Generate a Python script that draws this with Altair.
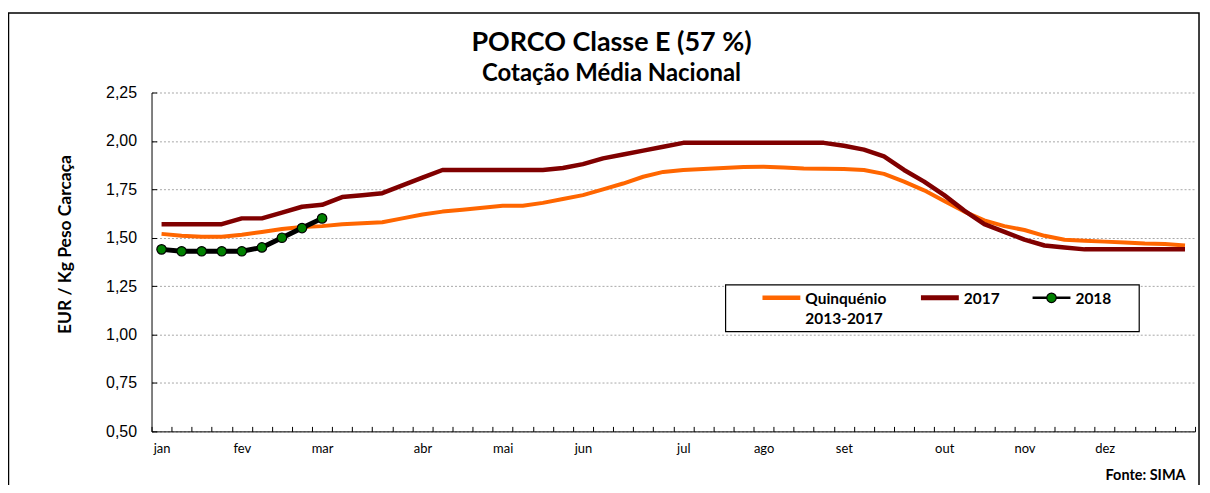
import altair as alt
import pandas as pd

weeks = list(range(1, 53))

quinquenio = [1.52, 1.51, 1.505, 1.505, 1.515, 1.53, 1.545, 1.555, 1.56, 1.57,
              1.575, 1.58, 1.60, 1.62, 1.635, 1.645, 1.655, 1.665, 1.665, 1.68,
              1.70, 1.72, 1.75, 1.78, 1.815, 1.84, 1.85, 1.855, 1.86, 1.865,
              1.867, 1.863, 1.858, 1.856, 1.855, 1.85, 1.83, 1.79, 1.745, 1.69,
              1.635, 1.59, 1.56, 1.54, 1.51, 1.49, 1.485, 1.48, 1.475, 1.47,
              1.468, 1.46]

y2017 = [1.57, 1.57, 1.57, 1.57, 1.60, 1.60, 1.63, 1.66, 1.67, 1.71,
         1.72, 1.73, 1.77, 1.81, 1.85, 1.85, 1.85, 1.85, 1.85, 1.85,
         1.86, 1.88, 1.91, 1.93, 1.95, 1.97, 1.99, 1.99, 1.99, 1.99,
         1.99, 1.99, 1.99, 1.99, 1.975, 1.955, 1.92, 1.85, 1.79, 1.72,
         1.64, 1.57, 1.53, 1.49, 1.46, 1.45, 1.44, 1.44, 1.44, 1.44,
         1.44, 1.44]

y2018 = [1.44, 1.43, 1.43, 1.43, 1.43, 1.45, 1.50, 1.55, 1.60]

series = ["Quinquénio 2013-2017", "2017", "2018"]
legend_labels = ["Quinquénio\n2013-2017", "2017", "2018"]
colors = ["#FF6600", "#800000", "#000000"]
widths = [4, 5, 2.5]

months = ["jan", "fev", "mar", "abr", "mai", "jun", "jul", "ago", "set", "out", "nov", "dez"]
month_weeks = [1, 5, 9, 14, 18, 22, 27, 31, 35, 40, 44, 48]
y_ticks = [0.5, 0.75, 1.0, 1.25, 1.5, 1.75, 2.0, 2.25]

rows = []
for w, v in zip(weeks, quinquenio):
    rows.append({"semana": w, "valor": v, "serie": series[0]})
for w, v in zip(weeks, y2017):
    rows.append({"semana": w, "valor": v, "serie": series[1]})
for w, v in zip(weeks[:len(y2018)], y2018):
    rows.append({"semana": w, "valor": v, "serie": series[2]})
df = pd.DataFrame(rows)
df18 = df[df["serie"] == "2018"]

W, H = 1047, 340
boundaries = [w - 0.5 for w in range(1, 54)]
bnd_js = "[" + ",".join(str(b) for b in [m - 0.5 for m in month_weeks]) + "]"
mon_js = "[" + ",".join("'" + m + "'" for m in months) + "]"
x_label_expr = f"indexof({bnd_js}, datum.value) >= 0 ? {mon_js}[indexof({bnd_js}, datum.value)] : ''"

x_enc = alt.X(
    "semana:Q",
    scale=alt.Scale(domain=[0.5, 52.5], nice=False, zero=False),
    axis=alt.Axis(
        values=boundaries, tickCount=60, labelExpr=x_label_expr, labelOffset=W / 52 / 2,
        tickSize={"expr": "-5"}, tickColor="black", domainColor="black",
        labelFont="Lato", labelFontSize=13, labelColor="black",
        labelPadding=16, labelOverlap=False, labelFlush=False, labelBound=False,
        grid=False,
        title="Fonte: SIMA", titleFont="Lato", titleFontSize=14.5, titleFontWeight="bold",
        titleColor="black", titleAnchor="end", titleAlign="right",
        titleX=1037, titleY=48, titleBaseline="alphabetic",
    ),
)
y_enc = alt.Y(
    "valor:Q",
    scale=alt.Scale(domain=[0.5, 2.25], nice=False, zero=False),
    axis=alt.Axis(
        values=y_ticks, tickCount=20,
        labelExpr="replace(format(datum.value, '.2f'), '.', ',')",
        tickSize={"expr": "-5"}, tickColor="black", domainColor="black",
        labelFont="Liberation Sans", labelFontSize=16, labelColor="black",
        labelPadding=20,
        grid=True, gridColor="#a8a8a8", gridDash=[2, 2], gridWidth=1,
        title="EUR / Kg Peso Carcaça", titleFont="Lato", titleFontSize=17.5,
        titleFontWeight="bold", titleColor="black",
        titleX=-86, titleY=152, titleAngle=270, titleAlign="center",
        titleBaseline="middle",
    ),
)

lines = alt.Chart(df).mark_line(strokeJoin="round", clip=True).encode(
    x=x_enc,
    y=y_enc,
    color=alt.Color("serie:N", scale=alt.Scale(domain=series, range=colors), legend=None),
    strokeWidth=alt.StrokeWidth("serie:N", scale=alt.Scale(domain=series, range=widths), legend=None),
)

points = alt.Chart(df18).mark_circle(
    color="#008000", stroke="black", strokeWidth=1.2, size=90, opacity=1
).encode(x="semana:Q", y="valor:Q")

one = alt.InlineData(values=[{"f": 1}])

frame = alt.Chart(one).mark_rect(
    fill=None, stroke="black", strokeWidth=1.5
).encode(
    x=alt.value(-143.5), x2=alt.value(1051), y=alt.value(-79.7), y2=alt.value(430)
)

# ---- legend (box, swatches, labels) ----
LX, LY, LW, LH = 576, 193, 415, 47
sym_x = [613, 772, 884]
sym_len = 38
sym_y = LY + 13
legend_layers = [
    alt.Chart(one).mark_rect(fill="white", stroke="black", strokeWidth=1.2).encode(
        x=alt.value(LX), x2=alt.value(LX + LW), y=alt.value(LY), y2=alt.value(LY + LH)
    )
]
for i in range(3):
    legend_layers.append(
        alt.Chart(one).mark_rule(color=colors[i], strokeWidth=widths[i] if i else 4.5).encode(
            x=alt.value(sym_x[i]), x2=alt.value(sym_x[i] + sym_len), y=alt.value(sym_y)
        )
    )
    legend_layers.append(
        alt.Chart(one).mark_text(
            text=legend_labels[i], lineBreak="\n", lineHeight=20, align="left", baseline="middle",
            font="Lato", fontSize=15.5, fontWeight="bold", color="black"
        ).encode(x=alt.value(sym_x[i] + sym_len + 5), y=alt.value(sym_y + 1))
    )
legend_layers.append(
    alt.Chart(one).mark_circle(color="#008000", stroke="black", strokeWidth=1.2, size=90, opacity=1).encode(
        x=alt.value(sym_x[2] + sym_len / 2), y=alt.value(sym_y)
    )
)

chart = alt.layer(frame, lines, points, *legend_layers).properties(
    width=W, height=H,
    padding={"left": 144, "top": 84, "right": 7, "bottom": 53},
    autosize=alt.AutoSizeParams(type="none"),
    background="white",
    title=alt.Title(
        "PORCO Classe E (57 %)", subtitle="Cotação Média Nacional",
        font="Lato", fontSize=27, fontWeight="bold", color="black",
        subtitleFont="Lato", subtitleFontSize=24, subtitleFontWeight="bold",
        subtitleColor="black", anchor="middle", dx=-62, offset=-75, subtitlePadding=5,
    ),
).configure_view(stroke=None)

chart.save("out.html", embed_options={"renderer": "svg", "actions": False})
